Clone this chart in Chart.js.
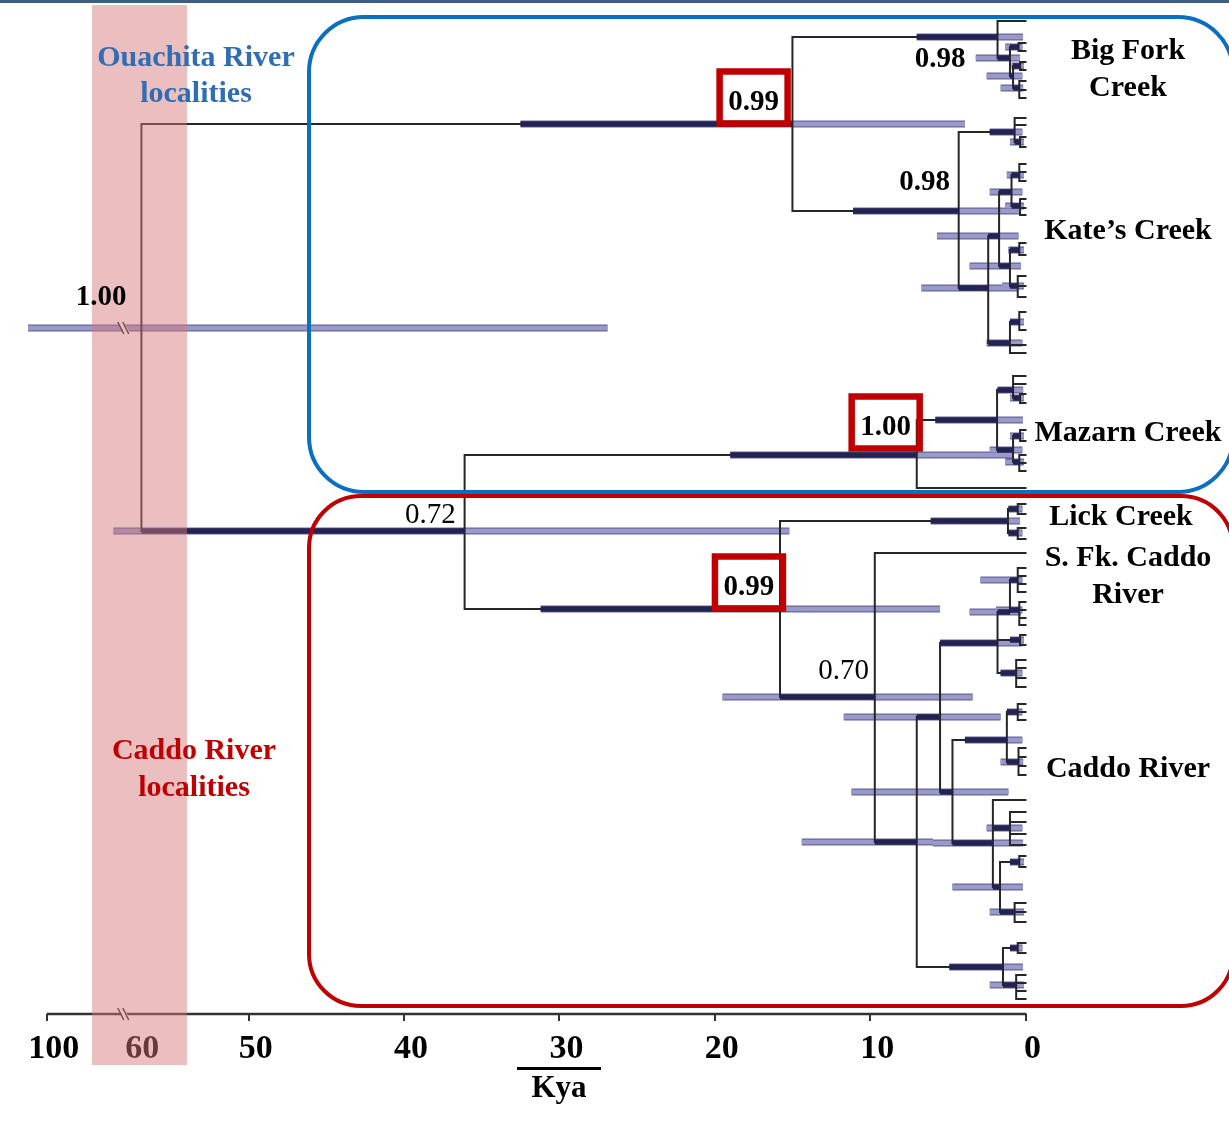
<!DOCTYPE html>
<html>
<head>
<meta charset="utf-8">
<script src="https://cdn.jsdelivr.net/npm/chart.js@4.4.1/dist/chart.umd.min.js"></script>
<style>
  html, body { margin: 0; padding: 0; background: #fff; }
  #wrap { width: 1229px; height: 1125px; position: relative; }
</style>
</head>
<body>
<div id="wrap"><canvas id="tree"></canvas></div>
<script>
// axis: Kya, the part left of 50 is compressed (broken axis)
const tickValues = [0, 10, 20, 30, 40, 50, 57.3, 63.0];
const tickLabels = ["0", "10", "20", "30", "40", "50", "60", "100"];

// tree nodes: id, parent, age (Kya), row
const treeNodes = [
  ["R", null, 56.9, 328],
  ["O", "R", 15.0, 124],
  ["A", "R", 36.1, 531],
  // Big Fork Creek
  ["BF", "O", 1.8, 37],
  [null, "BF", 0, 21],
  ["BF2", "BF", 1.0, 58],
  ["BF3", "BF2", 0.45, 47], [null, "BF3", 0, 43], [null, "BF3", 0, 51],
  ["BF4", "BF2", 0.8, 76],
  ["BF5", "BF4", 0.35, 66], [null, "BF5", 0, 62], [null, "BF5", 0, 70],
  ["BF6", "BF4", 0.4, 88], [null, "BF6", 0, 81], [null, "BF6", 0, 90], [null, "BF6", 0, 98],
  // Kate's Creek
  ["K", "O", 4.3, 211],
  ["KA", "K", 0.7, 132], [null, "KA", 0, 118], [null, "KA", 0, 125],
  ["KA2", "KA", 0.35, 142], [null, "KA2", 0, 137], [null, "KA2", 0, 147],
  ["KB", "K", 2.4, 288],
  ["KC", "KB", 1.7, 236],
  ["KE", "KC", 0.9, 192],
  ["KE1", "KE", 0.4, 175], [null, "KE1", 0, 164], [null, "KE1", 0, 172], [null, "KE1", 0, 181],
  ["KE2", "KE", 0.35, 206], [null, "KE2", 0, 199], [null, "KE2", 0, 208], [null, "KE2", 0, 215],
  ["KF", "KC", 1.0, 266],
  ["KF1", "KF", 0.4, 250], [null, "KF1", 0, 243], [null, "KF1", 0, 255],
  ["KF2", "KF", 0.5, 286], [null, "KF2", 0, 276], [null, "KF2", 0, 286], [null, "KF2", 0, 297],
  ["KD", "KB", 1.0, 343],
  ["KD1", "KD", 0.4, 322], [null, "KD1", 0, 312], [null, "KD1", 0, 330],
  [null, "KD", 0, 345], [null, "KD", 0, 353],
  // Mazarn Creek
  ["MZ0", "A", 7.0, 455],
  ["MZ", "MZ0", 1.83, 420],
  ["MZ1", "MZ", 0.8, 390], [null, "MZ1", 0, 376], [null, "MZ1", 0, 384],
  ["MZ1b", "MZ1", 0.35, 398], [null, "MZ1b", 0, 394], [null, "MZ1b", 0, 403],
  ["MZ2", "MZ", 0.8, 450],
  ["MZ2a", "MZ2", 0.35, 436], [null, "MZ2a", 0, 430], [null, "MZ2a", 0, 441],
  ["MZ2b", "MZ2", 0.4, 462], [null, "MZ2b", 0, 455], [null, "MZ2b", 0, 463], [null, "MZ2b", 0, 471],
  [null, "MZ0", 0, 488],
  // Caddo side
  ["C", "A", 15.8, 609],
  ["L", "C", 1.13, 521],
  ["L1", "L", 0.5, 509], [null, "L1", 0, 504], [null, "L1", 0, 514],
  ["L2", "L", 0.5, 533], [null, "L2", 0, 528], [null, "L2", 0, 539],
  ["CR", "C", 9.7, 697],
  [null, "CR", 0, 553],
  ["CD", "CR", 7.0, 842],
  ["CE", "CD", 5.5, 717],
  ["CI", "CE", 1.8, 643],
  ["CI1", "CI", 1.0, 612],
  ["CI1a", "CI1", 0.5, 580], [null, "CI1a", 0, 568], [null, "CI1a", 0, 576], [null, "CI1a", 0, 584], [null, "CI1a", 0, 592],
  ["CI1b", "CI1", 0.4, 610], [null, "CI1b", 0, 602], [null, "CI1b", 0, 610], [null, "CI1b", 0, 618], [null, "CI1b", 0, 625],
  ["CI3", "CI", 0.35, 640], [null, "CI3", 0, 635], [null, "CI3", 0, 645],
  ["CI2", "CI", 0.6, 673], [null, "CI2", 0, 660], [null, "CI2", 0, 668], [null, "CI2", 0, 678], [null, "CI2", 0, 687],
  ["CH", "CE", 4.7, 792],
  ["CJ", "CH", 1.2, 740],
  ["CJ1", "CJ", 0.5, 712], [null, "CJ1", 0, 704], [null, "CJ1", 0, 712], [null, "CJ1", 0, 720],
  ["CJ2", "CJ", 0.45, 762], [null, "CJ2", 0, 748], [null, "CJ2", 0, 757], [null, "CJ2", 0, 766], [null, "CJ2", 0, 775],
  ["CK", "CH", 2.1, 843],
  [null, "CK", 0, 800],
  ["CM", "CK", 1.0, 828], [null, "CM", 0, 812], [null, "CM", 0, 822], [null, "CM", 0, 834], [null, "CM", 0, 845],
  ["CN", "CK", 1.64, 887],
  ["CN1", "CN", 0.4, 862], [null, "CN1", 0, 856], [null, "CN1", 0, 867],
  ["CN2", "CN", 0.7, 912], [null, "CN2", 0, 903], [null, "CN2", 0, 912], [null, "CN2", 0, 922],
  ["CF", "CD", 1.45, 967],
  ["CF1", "CF", 0.5, 948], [null, "CF1", 0, 943], [null, "CF1", 0, 953],
  ["CF2", "CF", 0.6, 985], [null, "CF2", 0, 975], [null, "CF2", 0, 983], [null, "CF2", 0, 991], [null, "CF2", 0, 999],
];

// 95% HPD of node ages (Kya): [young, old]
const nodeHPD = {
  R: [26.9, 64.2], O: [3.9, 32.5], A: [15.2, 58.7],
  BF: [0.16, 7.0], BF2: [0.35, 3.2], BF3: [0.2, 1.3], BF4: [0.2, 2.5], BF5: [0.1, 0.9], BF6: [0.15, 1.6],
  K: [0.35, 11.1], KA: [0.2, 2.3], KA2: [0.1, 1.0], KB: [0.5, 6.7], KC: [0.45, 5.7],
  KE: [0.2, 2.3], KE1: [0.1, 1.2], KE2: [0.1, 1.3], KF: [0.3, 3.6], KF1: [0.1, 1.1], KF2: [0.1, 1.5],
  KD: [0.2, 2.5], KD1: [0.1, 1.0],
  MZ0: [0.8, 19.0], MZ: [0.16, 5.8], MZ1: [0.15, 1.8], MZ1b: [0.1, 1.0], MZ2: [0.2, 2.3], MZ2a: [0.1, 1.0], MZ2b: [0.1, 1.3],
  C: [5.5, 31.2], L: [0.35, 6.1], L1: [0.2, 1.1], L2: [0.2, 1.1],
  CR: [3.4, 19.5], CD: [5.95, 14.4], CE: [1.6, 11.7], CI: [0.2, 5.5], CI1: [0.3, 3.6], CI1a: [0.2, 2.9],
  CI1b: [0.2, 1.9], CI3: [0.1, 1.0], CI2: [0.2, 1.6], CH: [1.1, 11.2], CJ: [0.2, 3.9], CJ1: [0.2, 1.2],
  CJ2: [0.15, 1.6], CK: [0.16, 5.95], CM: [0.2, 2.5], CN: [0.16, 4.7], CN1: [0.1, 1.0], CN2: [0.1, 2.3],
  CF: [0.16, 4.9], CF1: [0.2, 1.0], CF2: [0.1, 2.3],
};

// posterior support: text, age, row, bold, boxed
const posteriors = [
  ["0.99", 17.5, 100, true, true],
  ["0.98", 5.5, 57, true, false],
  ["0.98", 6.5, 180, true, false],
  ["1.00", 59.5, 295, true, false],
  ["1.00", 9.0, 425, true, true],
  ["0.72", 38.3, 513, false, false],
  ["0.99", 17.8, 585, true, true],
  ["0.70", 11.7, 669, false, false],
];

const cladeNames = [
  ["Big Fork", 49], ["Creek", 86], ["Kate’s Creek", 229], ["Mazarn Creek", 431],
  ["Lick Creek", 515], ["S. Fk. Caddo", 556], ["River", 593], ["Caddo River", 767],
];
const regionNames = [
  ["Ouachita River", 56, "#2f6db4"], ["localities", 92, "#2f6db4"],
  ["Caddo River", 749, "#c00000"], ["localities", 786, "#c00000"],
];
const AXIS_BREAK = 58.1;

const byId = {};
treeNodes.forEach(n => { if (n[0]) byId[n[0]] = n; });

const branchPts = [];
treeNodes.forEach(n => {
  const p = byId[n[1]];
  if (!p) return;
  branchPts.push({ x: p[2], y: p[3] }, { x: p[2], y: n[3] }, { x: n[2], y: n[3] }, { x: n[2], y: null });
});

const lavPts = [];
const darkPts = [];
Object.entries(nodeHPD).forEach(([id, [lo, hi]]) => {
  const n = byId[id];
  lavPts.push({ x: lo, y: n[3] }, { x: hi, y: n[3] }, { x: hi, y: null });
  const p = byId[n[1]];
  if (!p) return;
  const top = Math.min(hi, p[2]);
  if (top > n[2]) darkPts.push({ x: n[2], y: n[3] }, { x: top, y: n[3] }, { x: top, y: null });
});

const lineSet = (data, color, width, order, cap) => ({
  data, borderColor: color, borderWidth: width, order, showLine: true, pointRadius: 0,
  pointHoverRadius: 0, fill: false, tension: 0, spanGaps: false, clip: false,
  borderCapStyle: cap, borderJoinStyle: "miter",
});

const SERIF = "'Liberation Serif', 'Times New Roman', serif";
const TXT_DY = 2.5;

function roundRect(ctx, x0, y0, x1, y1, r) {
  ctx.beginPath();
  ctx.moveTo(x0 + r, y0);
  ctx.lineTo(x1 - r, y0);
  ctx.arcTo(x1, y0, x1, y0 + r, r);
  ctx.lineTo(x1, y1 - r);
  ctx.arcTo(x1, y1, x1 - r, y1, r);
  ctx.lineTo(x0 + r, y1);
  ctx.arcTo(x0, y1, x0, y1 - r, r);
  ctx.lineTo(x0, y0 + r);
  ctx.arcTo(x0, y0, x0 + r, y0, r);
  ctx.closePath();
}

function breakMark(ctx, x, y) {
  ctx.save();
  ctx.strokeStyle = "#fff";
  ctx.lineWidth = 5;
  ctx.beginPath(); ctx.moveTo(x - 2, y - 6); ctx.lineTo(x + 5, y + 6); ctx.stroke();
  ctx.strokeStyle = "#222";
  ctx.lineWidth = 1.5;
  [-2, 3].forEach(d => {
    ctx.beginPath(); ctx.moveTo(x + d - 3, y - 6); ctx.lineTo(x + d + 3, y + 6); ctx.stroke();
  });
  ctx.restore();
}

const decor = {
  id: "decor",
  afterDraw(chart) {
    const { ctx, chartArea } = chart;
    const xs = chart.scales.x, ys = chart.scales.y;
    ctx.save();

    // top rule
    ctx.fillStyle = "#3d5d83";
    ctx.fillRect(0, 0, chart.width, 3);

    // axis line and break
    const axY = chartArea.bottom;
    ctx.strokeStyle = "#333";
    ctx.lineWidth = 2.5;
    ctx.beginPath();
    ctx.moveTo(xs.getPixelForValue(63.0), axY);
    ctx.lineTo(xs.getPixelForValue(0) + 1, axY);
    ctx.stroke();
    breakMark(ctx, xs.getPixelForValue(AXIS_BREAK), axY);
    breakMark(ctx, xs.getPixelForValue(AXIS_BREAK), ys.getPixelForValue(328));

    // axis title with overline
    ctx.fillStyle = "#000";
    ctx.fillRect(517, 1067, 84, 3);
    ctx.font = "bold 31px " + SERIF;
    ctx.textAlign = "center";
    ctx.textBaseline = "middle";
    ctx.fillText("Kya", 559, 1089);

    // highlighted time band
    ctx.fillStyle = "rgba(214, 120, 122, 0.48)";
    ctx.fillRect(92, 5, 95, 1060);

    // locality boxes
    ctx.lineWidth = 4;
    ctx.strokeStyle = "#0b6fc0";
    roundRect(ctx, 309, 17, 1233, 492, 55);
    ctx.stroke();
    ctx.strokeStyle = "#c00000";
    roundRect(ctx, 309, 496, 1233, 1006, 52);
    ctx.stroke();

    // posterior labels
    posteriors.forEach(([txt, age, row, bold, boxed]) => {
      const px = xs.getPixelForValue(age), py = ys.getPixelForValue(row);
      if (boxed) {
        ctx.strokeStyle = "#c00000";
        ctx.lineWidth = 6.5;
        ctx.strokeRect(px - 34, py - 28.5, 68, 52);
      }
      ctx.fillStyle = "#000";
      ctx.font = (bold ? "bold " : "") + "29px " + SERIF;
      ctx.fillText(txt, px, py + TXT_DY);
    });

    // clade names
    ctx.font = "bold 30px " + SERIF;
    cladeNames.forEach(([txt, row]) => {
      const cx = txt === "Lick Creek" ? 1121 : 1128;
      ctx.fillText(txt, cx, ys.getPixelForValue(row) + TXT_DY);
    });
    regionNames.forEach(([txt, row, col]) => {
      ctx.fillStyle = col;
      ctx.fillText(txt, row < 500 ? 196 : 194, ys.getPixelForValue(row) + TXT_DY);
    });
    ctx.restore();
  },
};

new Chart(document.getElementById("tree"), {
  type: "scatter",
  data: {
    datasets: [
      lineSet(darkPts, "#232352", 5.5, 1, "butt"),
      lineSet(branchPts, "#262626", 2, 2, "square"),
      lineSet(lavPts, "#9a9aca", 4.5, 3, "butt"),
      lineSet(lavPts, "#66669a", 7, 4, "butt"),
    ],
  },
  options: {
    responsive: true,
    maintainAspectRatio: false,
    animation: false,
    devicePixelRatio: 1,
    layout: { padding: { top: 0, left: 28, right: 203.5, bottom: 0 } },
    plugins: { legend: { display: false }, tooltip: { enabled: false } },
    events: [],
    scales: {
      x: {
        type: "linear",
        reverse: true,
        min: 0,
        max: 64.2,
        afterBuildTicks: s => { s.ticks = tickValues.map(v => ({ value: v })); },
        afterFit: s => { s.height = 111; },
        border: { display: false },
        grid: {
          drawOnChartArea: false,
          tickLength: 7,
          lineWidth: 2,
          color: c => (tickLabels[c.index] === "60" ? "rgba(0,0,0,0)" : "#333"),
        },
        ticks: {
          autoSkip: false,
          maxRotation: 0,
          labelOffset: 7,
          padding: 8,
          color: "#000",
          font: { family: SERIF, weight: "bold", size: 34 },
          callback: (v, i) => tickLabels[i],
        },
      },
      y: { type: "linear", display: false, reverse: true, min: 0, max: 1014 },
    },
  },
  plugins: [decor],
});
</script>
</body>
</html>
